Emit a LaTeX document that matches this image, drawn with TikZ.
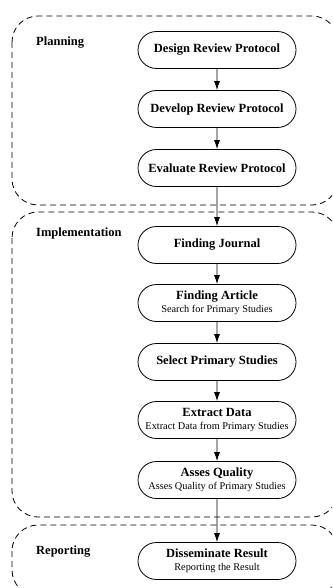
\documentclass[tikz,border=0pt]{standalone}
\usepackage{fontspec}
\setmainfont{Liberation Serif}
\usetikzlibrary{shapes.misc,arrows.meta}
\tikzset{
  stage/.style={draw, line width=0.8pt, dash pattern=on 6pt off 4pt, rounded corners=26pt},
  proc/.style={draw, line width=0.8pt, rounded rectangle, minimum width=160pt, minimum height=37pt,
    inner sep=1pt, align=center, font=\fontsize{12.5}{14}\selectfont\bfseries},
  stagelabel/.style={anchor=west, inner sep=0pt, font=\fontsize{12.5}{14}\selectfont\bfseries},
  flow/.style={line width=0.8pt, -{Latex[length=9pt,width=6pt]}},
}
\newcommand{\subt}[1]{\\[-1pt]{\fontsize{10.3}{12}\selectfont\mdseries #1}}
\begin{document}
\begin{tikzpicture}[x=1pt,y=-1pt]
\useasboundingbox (0,0) rectangle (332,588);
\begin{scope}
\clip (0,0) rectangle (332,588);
\draw[stage] (12,16) rectangle (338,205);
\draw[stage] (12,212) rectangle (338,517);
\draw[stage] (12,525) rectangle (338,596);
\end{scope}
\node[stagelabel] (lp) at (36,43) {Planning};
\node[stagelabel] (li) at (36,233) {Implementation};
\node[stagelabel] (lr) at (36,552) {Reporting};

\node[proc] (n1) at (217,50) {Design Review Protocol};
\node[proc] (n2) at (217,109) {Develop Review Protocol};
\node[proc] (n3) at (217,168) {Evaluate Review Protocol};
\node[proc] (n4) at (217,245) {Finding Journal};
\node[proc] (n5) at (217,303) {Finding Article\subt{Search for Primary Studies}};
\node[proc] (n6) at (217,362) {Select Primary Studies};
\node[proc] (n7) at (217,420) {Extract Data\subt{Extract Data from Primary Studies}};
\node[proc] (n8) at (217,480) {Asses Quality\subt{Asses Quality of Primary Studies}};
\node[proc] (n9) at (217,561) {Disseminate Result\subt{Reporting the Result}};

\draw[flow] (n1) -- (n2);
\draw[flow] (n2) -- (n3);
\draw[flow] (n3) -- (n4);
\draw[flow] (n4) -- (n5);
\draw[flow] (n5) -- (n6);
\draw[flow] (n6) -- (n7);
\draw[flow] (n7) -- (n8);
\draw[flow] (n8) -- (n9);
\end{tikzpicture}
\end{document}
